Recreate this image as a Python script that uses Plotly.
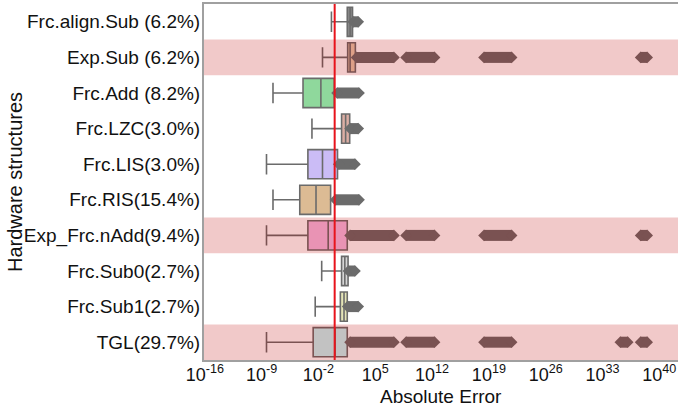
import plotly.graph_objects as go

categories = ["Frc.align.Sub (6.2%)", "Exp.Sub (6.2%)", "Frc.Add (8.2%)", "Frc.LZC(3.0%)",
              "Frc.LIS(3.0%)", "Frc.RIS(15.4%)", "Exp_Frc.nAdd(9.4%)", "Frc.Sub0(2.7%)",
              "Frc.Sub1(2.7%)", "TGL(29.7%)"]
highlighted = [False, True, False, False, False, False, True, False, False, True]

# box statistics, as log10 exponents
lower_exp  = [-0.4, -1.5, -7.6, -2.8, -8.4, -7.6, -8.4, -1.6, -2.4, -8.4]
q1_exp     = [1.55, 1.6, -3.9, 0.85, -3.3, -4.3, -3.3, 0.85, 0.7, -2.65]
median_exp = [1.9, 1.9, -1.7, 1.35, -1.5, -2.3, -0.8, 1.25, 1.15, 0.05]
q3_exp     = [2.2, 2.55, -0.05, 1.85, 0.35, -0.5, 1.55, 1.65, 1.55, 1.55]

# outlier clusters (start, end) as log10 exponents
outlier_exp = [
    [(2.3, 2.9)],
    [(2.7, 7.3), (8.8, 12.3), (18.4, 21.8), (37.7, 38.5)],
    [(0.3, 3.0)],
    [(1.9, 2.9)],
    [(0.5, 2.5)],
    [(0.1, 3.0)],
    [(1.9, 7.3), (8.8, 12.3), (18.4, 21.8), (37.7, 38.5)],
    [(1.7, 2.5)],
    [(1.6, 2.9)],
    [(1.9, 7.3), (8.8, 12.3), (18.4, 21.8), (35.2, 36.1), (37.7, 38.5)],
]

fill_colors = ["#8a8a8a", "#dd9f87", "#8fd89c", "#dcaea4", "#cbbcf6", "#dcbb94",
               "#e993b4", "#d6d6d6", "#e4e4b6", "#c2c2c2"]
ref_value = [1.0]
tick_exps = [-16, -9, -2, 5, 12, 19, 26, 33, 40]

GRAY = "#6b6b6b"
BROWN = "#7a5252"
BAND = "#f1c9c9"
FONT = "Liberation Sans, Arial, sans-serif"


def p10(e):
    return 10.0 ** e


fig = go.Figure()

for i, cat in enumerate(categories):
    edge = BROWN if highlighted[i] else GRAY
    fig.add_trace(go.Box(
        y=[cat], q1=[p10(q1_exp[i])], median=[p10(median_exp[i])], q3=[p10(q3_exp[i])],
        lowerfence=[p10(lower_exp[i])], upperfence=[p10(q3_exp[i])],
        orientation="h", boxpoints=False, fillcolor=fill_colors[i],
        line=dict(color=edge, width=1.6), width=0.82, whiskerwidth=0.7,
        showlegend=False, hoverinfo="skip"))
    for (a, b) in outlier_exp[i]:
        fig.add_trace(go.Scatter(
            x=[p10(a), p10(b)], y=[cat, cat], mode="lines+markers",
            line=dict(color=edge, width=11),
            marker=dict(symbol="diamond", size=9, color=edge, line=dict(width=0)),
            showlegend=False, hoverinfo="skip"))

# reference line
fig.add_trace(go.Scatter(x=ref_value * 2, y=[0, 1], yaxis="y2", mode="lines",
                         line=dict(color="#e8141c", width=2), showlegend=False, hoverinfo="skip"))

shapes = []
for i, h in enumerate(highlighted):
    if h:
        shapes.append(dict(type="rect", xref="paper", yref="y", x0=0, x1=1,
                           y0=i - 0.5, y1=i + 0.5, fillcolor=BAND, line=dict(width=0),
                           layer="below"))

fig.update_layout(
    width=678, height=409,
    margin=dict(l=204, r=0, t=4, b=49),
    paper_bgcolor="white", plot_bgcolor="white",
    font=dict(family=FONT, size=19, color="#111"),
    shapes=shapes,
    xaxis=dict(type="log", range=[-16.1, 42.3], showgrid=False, zeroline=False,
               tickvals=[p10(e) for e in tick_exps],
               ticktext=[f"10<sup>{e}</sup>" for e in tick_exps],
               ticks="", showline=True, mirror=True, linecolor="#a0a0a0", linewidth=2,
               automargin=False, tickfont=dict(size=18), ticklabelstandoff=-3),
    yaxis=dict(categoryorder="array", categoryarray=categories, range=[9.5, -0.5],
               showgrid=False, zeroline=False, ticks="", showline=True, mirror=True,
               linecolor="#a0a0a0", linewidth=2, automargin=False,
               tickfont=dict(size=19), ticklabelstandoff=-2),
    yaxis2=dict(overlaying="y", range=[0, 1], visible=False),
    boxmode="overlay",
    annotations=[
        dict(text="Absolute Error", xref="paper", yref="paper", x=0.5, y=0,
             yshift=-36, yanchor="middle", showarrow=False, font=dict(size=19)),
        dict(text="Hardware structures", xref="paper", yref="paper", x=0, y=0.5,
             xshift=-189, xanchor="center", yanchor="middle", textangle=-90,
             showarrow=False, font=dict(size=20)),
    ],
)

fig.write_html("out.html", config={"displayModeBar": False},
               post_script="document.body.style.margin='0';document.body.style.overflow='hidden';")
